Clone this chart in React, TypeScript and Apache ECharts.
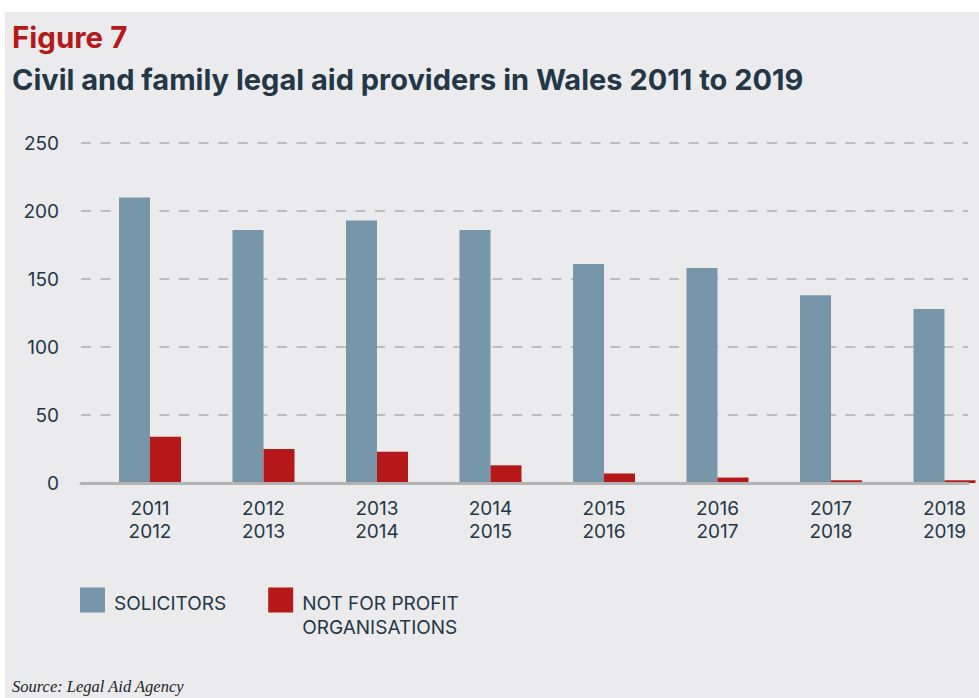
import React, { useEffect, useRef } from "react";
import * as echarts from "echarts";

const categories = [
  "2011\n2012",
  "2012\n2013",
  "2013\n2014",
  "2014\n2015",
  "2015\n2016",
  "2016\n2017",
  "2017\n2018",
  "2018\n2019",
];
const solicitors = [210, 186, 193, 186, 161, 158, 138, 128];
const notForProfit = [34, 25, 23, 13, 7, 4, 2, 2];
const yMin = 0;
const yMax = 250;
const yInterval = 50;

const NAVY = "#243746";
const BLUE = "#7896aa";
const RED = "#b41818";
const FONT = "Inter";

export default function App() {
  const ref = useRef<HTMLDivElement>(null);

  useEffect(() => {
    if (!ref.current) return;
    const chart = echarts.init(ref.current, undefined, { renderer: "svg" });
    const option: any = {
      animation: false,
      backgroundColor: "#ebebee",
      graphic: [
        { type: "rect", shape: { x: 0, y: 0, width: 979, height: 12 }, style: { fill: "#ffffff" }, silent: true },
        { type: "rect", shape: { x: 0, y: 0, width: 5, height: 698 }, style: { fill: "#ffffff" }, silent: true },
      ],
      title: [
        {
          text: "Figure 7",
          left: 12,
          top: 22,
          padding: 0,
          textStyle: { color: "#b5191b", fontSize: 29.5, fontWeight: 700, fontFamily: FONT },
        },
        {
          text: "Civil and family legal aid providers in Wales 2011 to 2019",
          left: 12,
          top: 64.5,
          padding: 0,
          textStyle: { color: NAVY, fontSize: 29, fontWeight: 700, fontFamily: FONT },
        },
        {
          text: "Source: Legal Aid Agency",
          left: 12,
          top: 678,
          padding: 0,
          textStyle: {
            color: "#1e1e1e",
            fontSize: 16.5,
            fontStyle: "italic",
            fontWeight: "normal",
            fontFamily: "Liberation Serif",
          },
        },
      ],
      legend: {
        left: 80,
        top: 575,
        padding: 0,
        itemWidth: 25,
        itemHeight: 25,
        itemGap: 42,
        icon: "rect",
        textStyle: {
          fontSize: 19,
          color: NAVY,
          fontFamily: FONT,
          rich: {
            a: { fontSize: 19, lineHeight: 24.5, color: NAVY, fontFamily: FONT, padding: [0, 0, 0, 4] },
            s: { fontSize: 1, lineHeight: 30.5 },
            p: { fontSize: 1, lineHeight: 6 },
          },
        },
        formatter: (name: string) =>
          name === "NOT FOR PROFIT ORGANISATIONS"
            ? "{s| }\n{a|NOT FOR PROFIT}\n{a|ORGANISATIONS}"
            : "{p| }\n{a|" + name + "}",
        data: ["SOLICITORS", "NOT FOR PROFIT ORGANISATIONS"],
      },
      grid: [
        { left: 81, right: 11, top: 143, bottom: 215, outerBoundsMode: "none" },
        { left: 93.25, right: -22.25, top: 143, bottom: 215, outerBoundsMode: "none" },
      ],
      xAxis: [
        {
          gridIndex: 0,
          type: "value",
          min: 0,
          max: 1,
          z: 5,
          axisLine: { show: true, onZero: false, lineStyle: { color: "#b3b3b3", width: 3 } },
          axisTick: { show: false },
          axisLabel: { show: false },
          splitLine: { show: false },
        },
        {
          gridIndex: 1,
          type: "category",
          data: categories,
          axisLine: { show: false },
          axisTick: { show: false },
          splitLine: { show: false },
          axisLabel: { margin: 14, fontSize: 19, lineHeight: 23, color: NAVY, fontFamily: FONT, interval: 0 },
        },
      ],
      yAxis: [
        {
          gridIndex: 0,
          type: "value",
          min: yMin,
          max: yMax,
          interval: yInterval,
          axisLine: { show: false },
          axisTick: { show: false },
          axisLabel: { margin: 22, fontSize: 19, color: NAVY, fontFamily: FONT },
          splitLine: { show: true, lineStyle: { color: "#bdbdbd", width: 2, type: [10, 9.6] } },
        },
        {
          gridIndex: 1,
          type: "value",
          min: yMin,
          max: yMax,
          interval: yInterval,
          show: false,
          splitLine: { show: false },
        },
      ],
      series: [
        {
          name: "SOLICITORS",
          type: "bar",
          xAxisIndex: 1,
          yAxisIndex: 1,
          data: solicitors,
          barWidth: 31,
          barGap: "0%",
          itemStyle: { color: BLUE },
        },
        {
          name: "NOT FOR PROFIT ORGANISATIONS",
          type: "bar",
          xAxisIndex: 1,
          yAxisIndex: 1,
          data: notForProfit,
          barWidth: 31,
          barGap: "0%",
          itemStyle: { color: RED },
        },
      ],
    };
    chart.setOption(option);
    return () => chart.dispose();
  }, []);

  return (
    <div
      ref={ref}
      style={{ position: "fixed", left: 0, top: 0, width: 979, height: 698 }}
    />
  );
}
